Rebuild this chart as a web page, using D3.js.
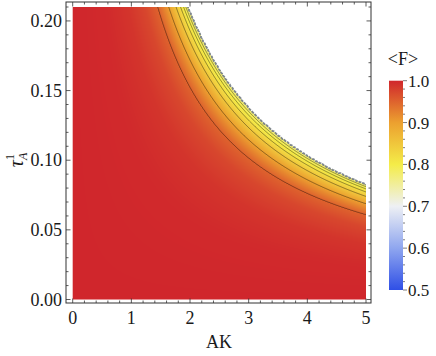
<!DOCTYPE html>
<html><head><meta charset="utf-8">
<script src="https://cdn.jsdelivr.net/npm/d3@7"></script>
<style>
body{margin:0;background:#fff}
text{font-family:"Liberation Serif","DejaVu Serif",serif;fill:#1a1a1a}
</style>
</head><body><div id="chart"></div>
<script>
var width=436,height=356;

var akTicks=[0,1,2,3,4,5];
var tauTicks=[0,0.05,0.1,0.15,0.2];
var barTicks=[0.5,0.6,0.7,0.8,0.9,1.0];
var profileU=[0,0.12,0.20,0.26,0.305,0.344,0.37,0.386,0.397,0.405,0.413];
var profileF=[1.0,0.997,0.988,0.973,0.95,0.9,0.85,0.82,0.8,0.785,0.77];
var contourLevels=[0.95,0.9,0.85,0.82,0.8,0.785];
var colorF=[0.5,0.6,0.7,0.8,0.9,1.0];
var colorHex=["#2f4fe6","#8fa6ef","#eef0f4","#f4ec48","#eca02f","#d0262c"];

var frame={left:66,top:2,right:371,bottom:303};
var x=d3.scaleLinear().domain([0,5]).range([72.7,366]);
var y=d3.scaleLinear().domain([0,0.21]).range([299.5,7]);
var fOfU=d3.scaleLinear().domain(profileU).range(profileF).clamp(true);
var color=d3.scaleLinear().domain(colorF).range(colorHex).clamp(true);
var uMax=d3.max(profileU);

var svg=d3.select("#chart").append("svg")
  .attr("width",width).attr("height",height);

svg.append("defs").append("clipPath").attr("id","plotclip")
  .append("rect")
  .attr("x",x(0)).attr("y",y(0.21))
  .attr("width",x(5)-x(0)).attr("height",y(0)-y(0.21));

// sample grid, one cell per pixel, 2px beyond the plot area
var gx0=Math.floor(x(0))-2, gy0=Math.floor(y(0.21))-2;
var n=Math.ceil(x(5))+2-gx0, m=Math.ceil(y(0))+2-gy0;
var values=new Float64Array(n*m);
var canvas=document.createElement("canvas");
canvas.width=n;canvas.height=m;
var ctx=canvas.getContext("2d");
var img=ctx.createImageData(n,m);
for(var j=0;j<m;j++){
  for(var i=0;i<n;i++){
    var ak=x.invert(gx0+i+0.5), tau=y.invert(gy0+j+0.5);
    var u=Math.max(ak,0)*Math.max(tau,0);
    var k=i+j*n;
    if(u>uMax){values[k]=0.4;continue;}
    var f=fOfU(u);
    values[k]=f;
    var c=d3.rgb(color(f));
    img.data[4*k]=c.r;img.data[4*k+1]=c.g;img.data[4*k+2]=c.b;img.data[4*k+3]=255;
  }
}
ctx.putImageData(img,0,0);

var plot=svg.append("g").attr("clip-path","url(#plotclip)");
plot.append("image")
  .attr("x",gx0).attr("y",gy0)
  .attr("width",n).attr("height",m)
  .attr("href",canvas.toDataURL());

var path=d3.geoPath(d3.geoIdentity().translate([gx0,gy0]));
var contours=d3.contours().size([n,m]).thresholds(contourLevels)(Array.from(values));
plot.append("g").selectAll("path")
  .data(contours).enter().append("path")
  .attr("d",path)
  .attr("fill","none")
  .attr("stroke","#000")
  .attr("stroke-opacity",0.45)
  .attr("stroke-width",0.9);

var edge=d3.contours().size([n,m]).thresholds([0.6])(Array.from(values));
plot.append("g").selectAll("path")
  .data(edge).enter().append("path")
  .attr("d",path)
  .attr("fill","none")
  .attr("stroke","#7f878c")
  .attr("stroke-width",1.8)
  .attr("stroke-dasharray","3,1");

// frame + ticks
svg.append("rect")
  .attr("x",frame.left).attr("y",frame.top)
  .attr("width",frame.right-frame.left).attr("height",frame.bottom-frame.top)
  .attr("fill","none").attr("stroke","#333").attr("stroke-width",1);

var akMinor=d3.range(0,5.001,0.2), tauMinor=d3.range(0,0.2101,0.01);
var tk=svg.append("g").attr("stroke","#333").attr("stroke-width",0.8);
function isMajor(v,list){return list.some(function(t){return Math.abs(t-v)<1e-6});}
akMinor.forEach(function(v){
  var L=isMajor(v,akTicks)?4.5:2.5;
  tk.append("line").attr("x1",x(v)).attr("x2",x(v)).attr("y1",frame.bottom).attr("y2",frame.bottom-L);
  tk.append("line").attr("x1",x(v)).attr("x2",x(v)).attr("y1",frame.top).attr("y2",frame.top+L);
});
tauMinor.forEach(function(v){
  var L=isMajor(v,tauTicks)?4.5:2.5;
  tk.append("line").attr("y1",y(v)).attr("y2",y(v)).attr("x1",frame.left).attr("x2",frame.left+L);
  tk.append("line").attr("y1",y(v)).attr("y2",y(v)).attr("x1",frame.right).attr("x2",frame.right-L);
});

svg.append("g").selectAll("text").data(akTicks).enter().append("text")
  .attr("x",d=>x(d)).attr("y",324)
  .attr("text-anchor","middle").attr("font-size",18)
  .text(d=>d);
svg.append("g").selectAll("text").data(tauTicks).enter().append("text")
  .attr("x",62).attr("y",d=>y(d)+6)
  .attr("text-anchor","end").attr("font-size",18)
  .text(d=>d3.format(".2f")(d));

svg.append("text").attr("x",219).attr("y",348)
  .attr("text-anchor","middle").attr("font-size",18).text("AK");

var yl=svg.append("text").attr("transform","translate(23,160) rotate(-90)")
  .attr("text-anchor","middle").attr("font-size",20);
yl.append("tspan").attr("font-style","italic").text("τ");
yl.append("tspan").attr("font-size",12).attr("dy",-9).text("1");
yl.append("tspan").attr("font-size",12).attr("font-style","italic").attr("dx",-6).attr("dy",13).text("A");

// colour bar
var bar={x:389,w:14,top:80.7,bottom:290};
var b=d3.scaleLinear().domain([0.5,1.0]).range([bar.bottom,bar.top]);
var grad=svg.select("defs").append("linearGradient").attr("id","fgrad")
  .attr("x1",0).attr("y1",1).attr("x2",0).attr("y2",0);
colorF.forEach(function(v,i){
  grad.append("stop").attr("offset",(v-0.5)/0.5).attr("stop-color",colorHex[i]);
});
svg.append("rect").attr("x",bar.x).attr("y",bar.top)
  .attr("width",bar.w).attr("height",bar.bottom-bar.top)
  .attr("fill","url(#fgrad)");
var bt=svg.append("g").attr("stroke","#444").attr("stroke-width",0.7);
d3.range(0.5,1.0001,0.02).forEach(function(v){
  var L=isMajor(v,barTicks)?4:2;
  bt.append("line").attr("x1",bar.x+bar.w).attr("x2",bar.x+bar.w+L).attr("y1",b(v)).attr("y2",b(v));
});
svg.append("g").selectAll("text").data(barTicks).enter().append("text")
  .attr("x",bar.x+bar.w+5).attr("y",d=>b(d)+6)
  .attr("font-size",17)
  .text(d=>d3.format(".1f")(d));
svg.append("text").attr("x",403).attr("y",65)
  .attr("text-anchor","middle").attr("font-size",18).text("<F>");
</script>
</body></html>
